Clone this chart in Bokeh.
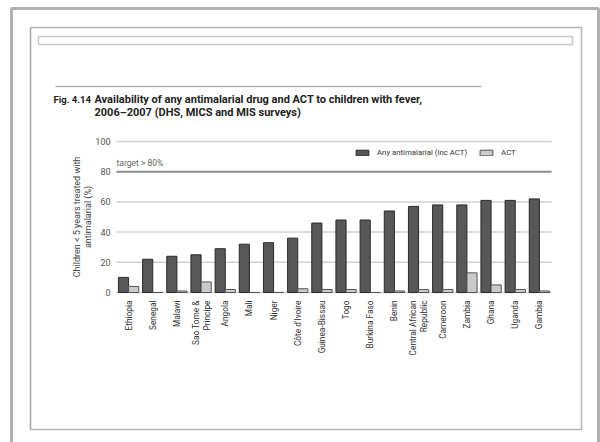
import numpy as np
from bokeh.plotting import figure
from bokeh.models import (Range1d, Legend, LegendItem, Label, BoxAnnotation)
from bokeh.core.properties import value
from bokeh.embed import file_html
from bokeh.resources import INLINE

countries = ["Ethiopia", "Senegal", "Malawi", "Sao Tome &\nPrincipe", "Angola", "Mali", "Niger",
             "Côte d'Ivoire", "Guinea-Bissau", "Togo", "Burkina Faso", "Benin",
             "Central African\nRepublic", "Cameroon", "Zambia", "Ghana", "Uganda", "Gambia"]
any_antimalarial = [10, 22, 24, 25, 29, 32, 33, 36, 46, 48, 48, 54, 57, 58, 58, 61, 61, 62]
act = [4, 0, 1, 7, 2, 0, 0, 2.5, 2, 2, 0, 1, 2, 2, 13, 5, 2, 1]
y_ticks = [0, 20, 40, 60, 80, 100]
target = 80
series_names = ["Any antimalarial (inc ACT)", "ACT"]

FONT = "Roboto"

# page layout (pixels)
W, H = 600, 442
PL, PR, PT, PB = 116, 551, 141, 292   # plot area edges
n = len(countries)
ymax = y_ticks[-1]
sx = (PR - PL) / n
sy = (PB - PT) / ymax

p = figure(width=W, height=H, min_border=0, output_backend="svg", toolbar_location=None,
           x_range=Range1d(-PL / sx, (W - PL) / sx), y_range=Range1d(-(H - PB) / sy, ymax + PT / sy),
           x_axis_location=None, y_axis_location=None, outline_line_color=None)
p.grid.visible = False

xc = np.arange(n) + 0.5
bw = 0.42
src = dict(x1=xc - bw / 2, x2=xc + bw / 2, a=any_antimalarial, t=act, c=countries)

# grid lines
p.segment(x0=0, x1=n, y0=y_ticks, y1=y_ticks, line_color="#d2d2d2", line_width=1.5)
p.segment(x0=[0], x1=[n], y0=[target], y1=[target], line_color="#8f8f8f", line_width=2)

r1 = p.vbar(x="x1", top="a", width=bw, source=src,
            fill_color="#575757", line_color="#2a2a2a", line_width=1)
r2 = p.vbar(x="x2", top="t", width=bw, source=src,
            fill_color="#cacaca", line_color="#555555", line_width=1)

# y tick labels
p.text(x=0, y=y_ticks, text=[str(t) for t in y_ticks], x_offset=-6, text_align="right",
       text_baseline="middle", text_font=value(FONT), text_font_size="9px",
       text_color="#555555")
# x tick labels
p.text(x="x1", y=0, text="c", source=dict(x1=xc, c=countries), angle=np.pi / 2, y_offset=8,
       text_align="right", text_baseline="middle", text_font=value(FONT),
       text_font_size="8.3px", text_color="#333333", text_line_height=1.1)
# y axis title
p.text(x=0, y=[ymax / 2], text=["Children < 5 years treated with\nantimalarial (%)"],
       x_offset=-34, angle=np.pi / 2, text_align="center", text_baseline="middle",
       text_font=value(FONT), text_font_size="9px", text_color="#444444", text_line_height=1.15)
# target label
p.text(x=0, y=[target], text=["target > 80%"], y_offset=-4, text_align="left",
       text_baseline="bottom", text_font=value(FONT), text_font_size="8.5px", text_color="#666666")

legend = Legend(items=[LegendItem(label=series_names[0], renderers=[r1]),
                       LegendItem(label=series_names[1], renderers=[r2])],
                orientation="horizontal", location=(354, H - 157), padding=0, margin=0,
                spacing=11, label_standoff=7, glyph_width=16, glyph_height=7,
                label_height=7, label_text_font=FONT, label_text_font_size="7.8px",
                label_text_color="#333333", border_line_alpha=0, background_fill_alpha=0)
p.add_layout(legend)

# title (canvas units)
p.add_layout(Label(x=53, y=99, x_units="canvas", y_units="canvas", text="Fig. 4.14",
                   text_font=FONT, text_font_style="bold", text_font_size="9.5px",
                   text_baseline="middle", text_color="#222222"))
for yy, t in [(99, "Availability of any antimalarial drug and ACT to children with fever,"),
              (112, "2006\u20132007 (DHS, MICS and MIS surveys)")]:
    p.add_layout(Label(x=94, y=yy, x_units="canvas", y_units="canvas", text=t,
                       text_font=FONT, text_font_style="bold", text_font_size="11px",
                       text_baseline="middle", text_color="#222222"))

def box(l, r, t, b, color, w, fill=None):
    p.add_layout(BoxAnnotation(left=l, right=r, top=t, bottom=b, left_units="canvas",
                               right_units="canvas", top_units="canvas", bottom_units="canvas",
                               fill_color=fill, fill_alpha=1 if fill else 0,
                               line_color=color, line_width=w))

box(55, 481, 85.5, 86.5, "#aaaaaa", 0.5, fill="#aaaaaa")
box(38, 572, 36, 44, "#444444", 1.5)
box(30, 581, 27, 429, "#111111", 1.5)
box(30, 30, 27, 429, "#888888", 1.5)
box(11, 598, 8, 460, "#000000", 3)

open("out.html", "w").write(file_html(p, INLINE))
